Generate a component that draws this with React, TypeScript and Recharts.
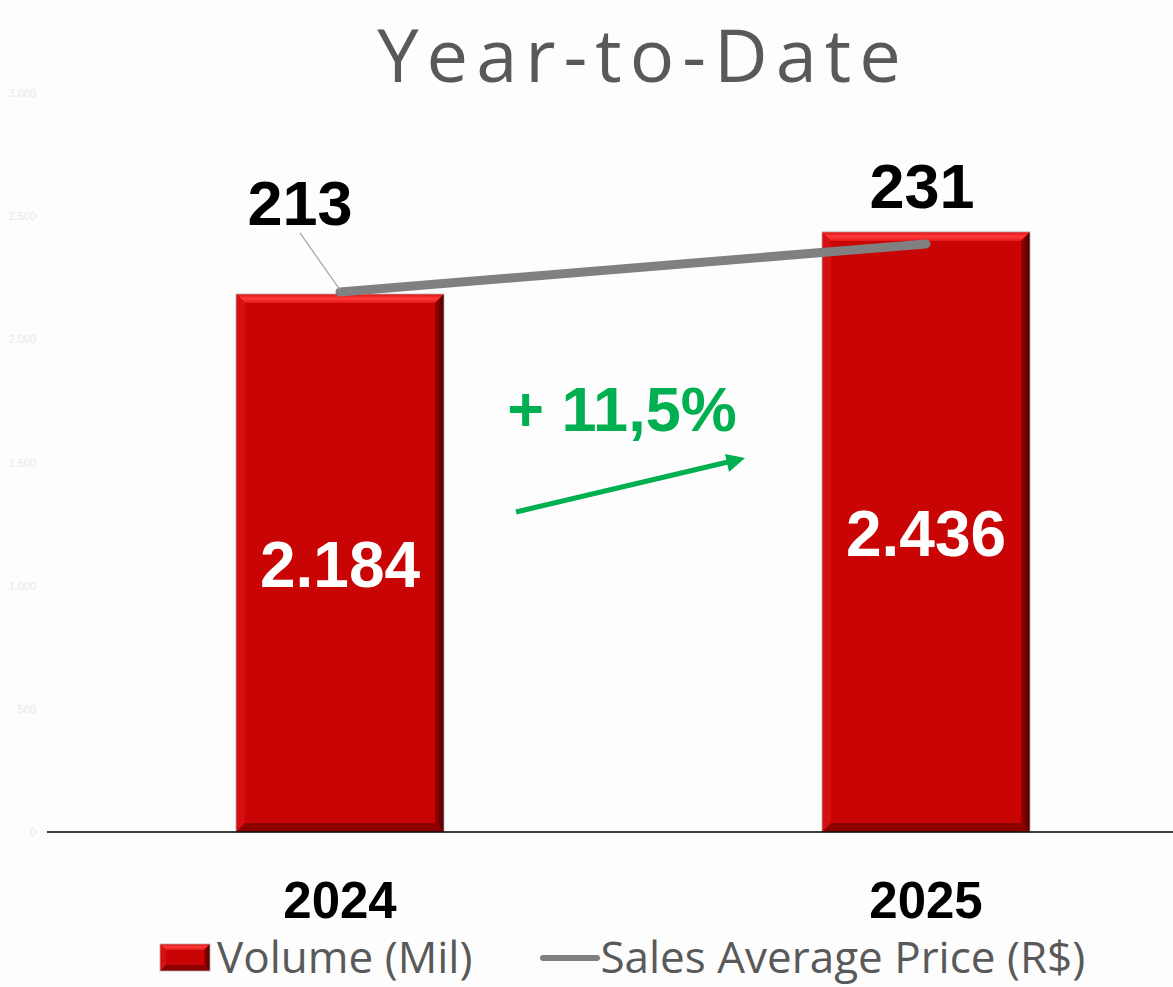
import { Bar, ComposedChart, LabelList, Legend, Line, XAxis, YAxis } from "recharts";

const years = ["2024", "2025"];
const volume = [2184, 2436];
const avgPrice = [213, 231];
const volumeTicks = [0, 500, 1000, 1500, 2000, 2500, 3000];
const growthLabel = "+ 11,5%";

const data = years.map((year, i) => ({ year, volume: volume[i], price: avgPrice[i] }));

const fmt = (v: number) => String(v).replace(/\B(?=(\d{3})+(?!\d))/g, ".");

function bevel(x: number, y: number, w: number, h: number, b: number) {
  return (
    <g>
      <rect x={x} y={y} width={w} height={h} fill="#c90404" />
      <polygon points={`${x},${y} ${x + w},${y} ${x + w - b},${y + b} ${x + b},${y + b}`} fill="url(#bevelTop)" />
      <polygon points={`${x},${y} ${x + b},${y + b} ${x + b},${y + h - b} ${x},${y + h}`} fill="#d61010" />
      <polygon points={`${x + w},${y} ${x + w},${y + h} ${x + w - b},${y + h - b} ${x + w - b},${y + b}`} fill="url(#bevelRight)" />
      <polygon points={`${x},${y + h} ${x + w},${y + h} ${x + w - b},${y + h - b} ${x + b},${y + h - b}`} fill="#8e0000" />
      <rect x={x} y={y} width={w} height={h} fill="none" stroke="#b0b0b0" strokeWidth={0.8} />
    </g>
  );
}

function BevelDefs() {
  return (
    <defs>
      <linearGradient id="bevelTop" x1="0" y1="0" x2="0" y2="1">
        <stop offset="0%" stopColor="#e01010" />
        <stop offset="50%" stopColor="#ff3a3a" />
        <stop offset="100%" stopColor="#e41818" />
      </linearGradient>
      <linearGradient id="bevelRight" x1="0" y1="0" x2="1" y2="0">
        <stop offset="0%" stopColor="#a00000" />
        <stop offset="100%" stopColor="#4a0000" />
      </linearGradient>
    </defs>
  );
}

function BevelBar(props: any) {
  const { x, y, width, height } = props;
  return bevel(x, y, width, height, 9);
}

function VolumeLabel(props: any) {
  const { x, y, width, height, value } = props;
  return (
    <text x={x + width / 2} y={y + height / 2 + 24} textAnchor="middle" fill="#ffffff"
      fontFamily="Liberation Sans, Arial" fontWeight="bold" fontSize={64}>
      {fmt(value)}
    </text>
  );
}

const priceOffsets = [
  { dx: -40, dy: -67, leader: true },
  { dx: -4, dy: -36, leader: false },
];

function PriceLabel(props: any) {
  const { x, y, value, index } = props;
  const o = priceOffsets[index] || { dx: 0, dy: -20, leader: false };
  return (
    <g>
      {o.leader && <line x1={x + o.dx} y1={y + o.dy + 8} x2={x} y2={y - 2} stroke="#a6a6a6" strokeWidth={1.2} />}
      <text x={x + o.dx} y={y + o.dy} textAnchor="middle" fill="#000000"
        fontFamily="Liberation Sans, Arial" fontWeight="bold" fontSize={63}>
        {value}
      </text>
    </g>
  );
}

function YearTick(props: any) {
  const { x, y, payload } = props;
  return (
    <text x={x} y={y + 78} textAnchor="middle" fill="#000000"
      fontFamily="Liberation Sans, Arial" fontWeight="bold" fontSize={51}>
      {payload.value}
    </text>
  );
}

function VolumeTick(props: any) {
  const { x, y, payload } = props;
  return (
    <text x={x - 3} y={y + 4} textAnchor="end" fill="#e9e9e9" fontFamily="Liberation Sans, Arial" fontSize={11}>
      {fmt(payload.value)}
    </text>
  );
}

function LegendContent() {
  const text = {
    display: "block",
    height: 48,
    fontFamily: "Open Sans, sans-serif",
    fontSize: 44,
    color: "#595959",
    lineHeight: "48px",
    whiteSpace: "nowrap" as const,
  };
  return (
    <div style={{ display: "flex", alignItems: "center", height: 48 }}>
      <svg width={52} height={30} style={{ marginRight: 6, marginTop: 4 }}>
        <BevelDefs />
        {bevel(1, 1, 50, 27, 6)}
      </svg>
      <span style={text}>Volume (Mil)</span>
      <svg width={60} height={30} style={{ marginLeft: 68, marginTop: 4 }}>
        <line x1={3} y1={15} x2={57} y2={15} stroke="#808080" strokeWidth={6} strokeLinecap="round" />
      </svg>
      <span style={text}>Sales Average Price (R$)</span>
    </div>
  );
}

export default function App() {
  return (
    <div style={{ position: "absolute", left: 0, top: 0, width: 1173, height: 987, overflow: "hidden", background: "#fdfdfd" }}>
      <ComposedChart width={1219} height={987} data={data} margin={{ top: 93, right: 0, bottom: 0, left: 0 }}>
        <BevelDefs />
        <XAxis dataKey="year" height={155} tickLine={false} axisLine={{ stroke: "#000000", strokeWidth: 1.5 }} tick={<YearTick />} interval={0} />
        <YAxis yAxisId="vol" width={47} domain={[0, 3000]} ticks={volumeTicks} axisLine={false} tickLine={false} tick={<VolumeTick />} />
        <YAxis yAxisId="price" orientation="right" hide domain={[10.5, 287.6]} />
        <Legend layout="horizontal" verticalAlign="middle" align="center" content={<LegendContent />}
          wrapperStyle={{ top: 932, left: 159, width: 1010, height: 48 }} />
        <Bar yAxisId="vol" dataKey="volume" name="Volume (Mil)" barSize={208} shape={<BevelBar />} isAnimationActive={false}>
          <LabelList dataKey="volume" content={<VolumeLabel />} />
        </Bar>
        <Line yAxisId="price" dataKey="price" name="Sales Average Price (R$)" stroke="#808080" strokeWidth={9}
          strokeLinecap="round" dot={false} activeDot={false} isAnimationActive={false}>
          <LabelList dataKey="price" content={<PriceLabel />} />
        </Line>
      </ComposedChart>
      <svg width={1173} height={987} style={{ position: "absolute", left: 0, top: 0, pointerEvents: "none" }}>
        <text x={643} y={82} textAnchor="middle" fill="#595959" fontFamily="Open Sans, sans-serif" fontSize={74} letterSpacing={8}>
          Year-to-Date
        </text>
        <text x={622} y={431} textAnchor="middle" fill="#00b050" fontFamily="Liberation Sans, Arial" fontWeight="bold" fontSize={63}>
          {growthLabel}
        </text>
        <line x1={516} y1={512} x2={728} y2={462} stroke="#00b050" strokeWidth={5} />
        <polygon points="745,458 725,454 729,472" fill="#00b050" />
      </svg>
    </div>
  );
}
